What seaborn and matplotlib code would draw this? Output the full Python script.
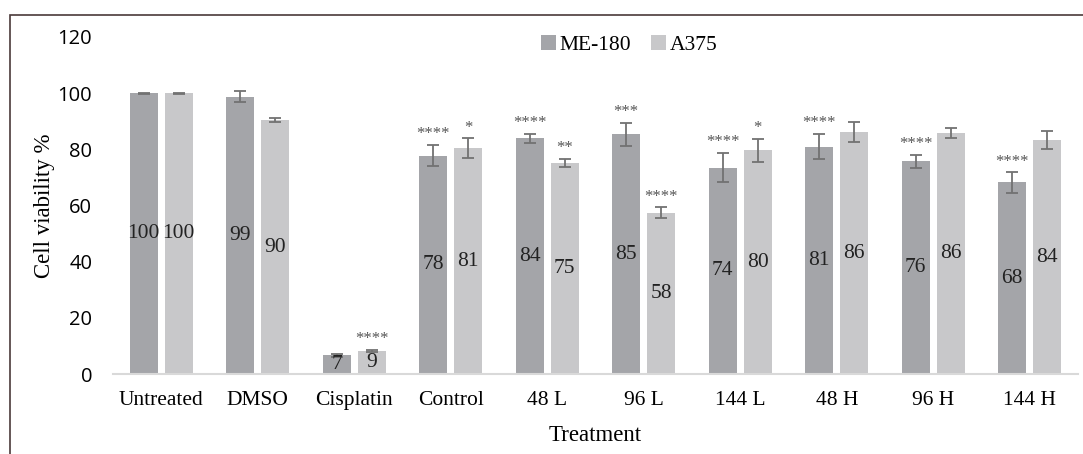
import numpy as np
import pandas as pd
import seaborn as sns
import matplotlib.pyplot as plt
from matplotlib.patches import Rectangle

# dados
tratamentos = ["Untreated", "DMSO", "Cisplatin", "Control", "48 L", "96 L",
               "144 L", "48 H", "96 H", "144 H"]
linhas = ["ME-180", "A375"]
me180 = [100, 98.8, 6.6, 77.8, 84.0, 85.3, 73.4, 81.0, 75.7, 68.2]
a375 = [100, 90.4, 8.3, 80.4, 75.1, 57.5, 79.6, 86.1, 85.9, 83.3]
me180_rot = ["100", "99", "7", "78", "84", "85", "74", "81", "76", "68"]
a375_rot = ["100", "90", "9", "81", "75", "58", "80", "86", "86", "84"]
me180_err = [0.2, 2.1, 0.4, 3.7, 1.6, 4.1, 5.2, 4.4, 2.4, 3.6]
a375_err = [0.2, 0.7, 0.3, 3.5, 1.4, 1.8, 4.1, 3.5, 1.7, 3.3]
me180_sig = ["", "", "", "****", "****", "***", "****", "****", "****", "****"]
a375_sig = ["", "", "****", "*", "**", "****", "*", "", "", ""]

tabela = pd.DataFrame({
    "Treatment": tratamentos * 2,
    "Linha": [linhas[0]] * len(tratamentos) + [linhas[1]] * len(tratamentos),
    "Viabilidade": me180 + a375,
})

cores = {"ME-180": "#a4a5a9", "A375": "#c8c8ca"}
serif = "Liberation Serif"

fig = plt.figure(figsize=(10.83, 4.54), dpi=100)
ax = fig.add_axes([113 / 1083, 80 / 454, 965 / 1083, 337 / 454])

sns.barplot(data=tabela, x="Treatment", y="Viabilidade", hue="Linha",
            palette=cores, width=0.726, gap=0.2, errorbar=None, ax=ax,
            saturation=1)

# barras na ordem: todas ME-180, depois todas A375
barras = ax.patches[:2 * len(tratamentos)]
valores = me180 + a375
rotulos = me180_rot + a375_rot
erros = me180_err + a375_err
sigs = me180_sig + a375_sig
for b, v, r, e, s in zip(barras, valores, rotulos, erros, sigs):
    cx = b.get_x() + b.get_width() / 2
    ax.errorbar(cx, v, yerr=e, fmt="none", ecolor="#727272", elinewidth=1.3,
                capsize=4.5, capthick=1.3)
    ax.text(cx, v / 2, r, ha="center", va="center", fontsize=15.5,
            family=serif, color="#222222")
    if s:
        ax.text(cx, v + e + 1.0, s, ha="center", va="bottom", fontsize=12,
                family=serif, color="#555555")

ax.set_ylim(0, 120)
ax.set_xlim(-0.5, len(tratamentos) - 0.5)
ax.set_yticks(range(0, 121, 20))
ax.tick_params(axis="y", length=0, labelsize=14.5, pad=15)
ax.tick_params(axis="x", length=0, labelsize=15.5, pad=12)
for t in ax.get_yticklabels():
    t.set_family("Open Sans")
for t in ax.get_xticklabels():
    t.set_family(serif)
for lado in ["top", "right", "left"]:
    ax.spines[lado].set_visible(False)
ax.spines["bottom"].set_color("#d9d9d9")
ax.spines["bottom"].set_linewidth(1.5)

ax.set_xlabel("Treatment", family=serif, fontsize=16.5, labelpad=11)
ax.set_ylabel("Cell viability %", family=serif, fontsize=16.5, labelpad=2)

leg = ax.legend(loc="center", bbox_to_anchor=(0.535, 0.976), ncol=2,
                frameon=False, handlelength=0.7, handleheight=0.7,
                handletextpad=0.2, columnspacing=0.9,
                prop={"family": serif, "size": 15.5})

# moldura da figura
fig.patches.append(Rectangle((10 / 1083, -0.1), 1.2, 1.1 - 15 / 454,
                             transform=fig.transFigure, fill=False,
                             edgecolor="#4a3a3a", linewidth=1.2))

fig.savefig("out.png", dpi=100)
